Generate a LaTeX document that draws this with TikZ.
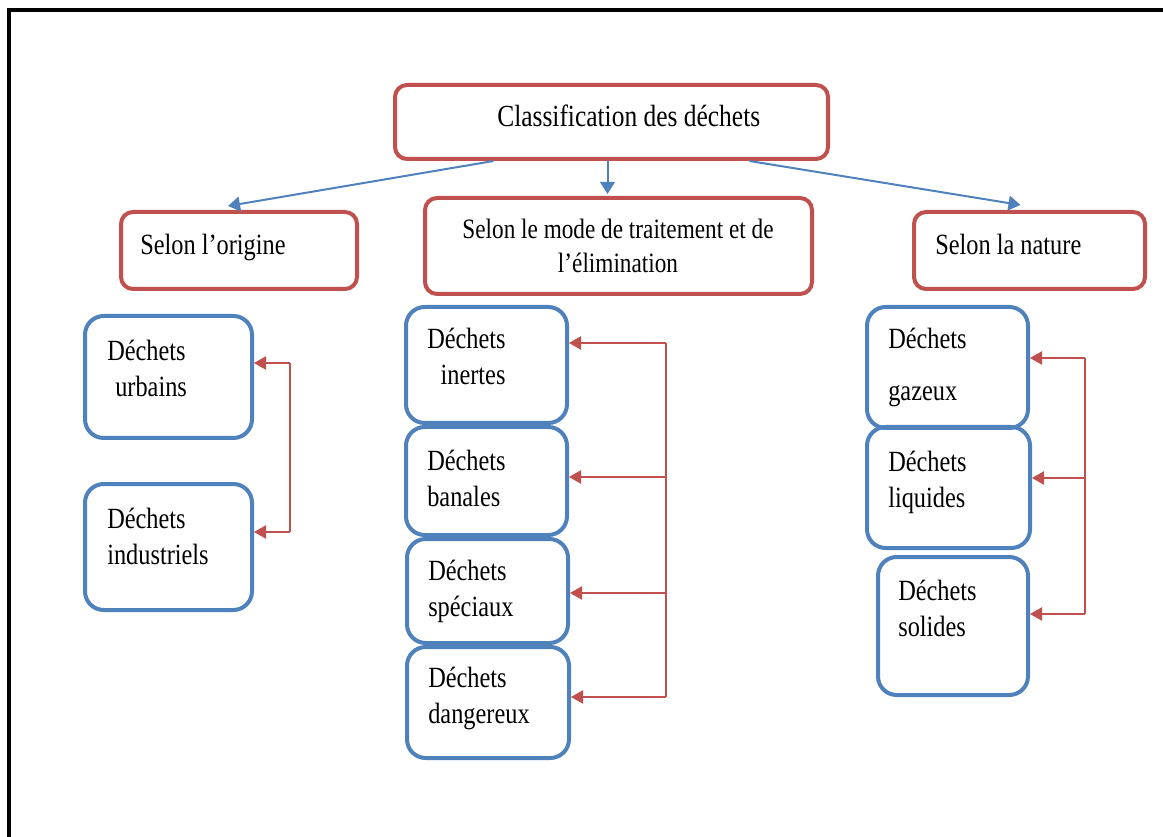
\documentclass[tikz,border=0pt]{standalone}
\usepackage{fontspec}
\setmainfont{Liberation Serif}[FakeStretch=0.83]
\usetikzlibrary{arrows.meta,calc}
\definecolor{rougeoff}{HTML}{C0504D}
\definecolor{bleuoff}{HTML}{4F81BD}

\begin{document}
\begin{tikzpicture}[x=0.75pt,y=-0.75pt]
        \tikzstyle{categorie}=[draw=rougeoff, line width=3pt, rounded corners=9pt, inner sep=0pt]
        \tikzstyle{dechet}=[draw=bleuoff, line width=3pt, rounded corners=14pt, inner sep=0pt]
        \tikzstyle{txt}=[inner sep=0pt, align=left, font=\fontsize{22}{27}\selectfont]
        \tikzstyle{fleche bleue}=[draw=bleuoff, line width=1.5pt, -{Triangle[length=9pt,width=11pt]}]
        \tikzstyle{fleche rouge}=[draw=rougeoff, line width=0.8pt, -{Triangle[length=9pt,width=10pt]}]
        \useasboundingbox (0,0) rectangle (1163,837);
        \draw[line width=3pt] (9,837) -- (9,10) -- (1163,10);
        % categories
        \node[categorie, minimum width=433*0.75pt, minimum height=74*0.75pt] (classif) at (611.5,122) {};
        \node[categorie, minimum width=236*0.75pt, minimum height=77*0.75pt] (origine) at (239,250.5) {};
        \node[categorie, minimum width=387*0.75pt, minimum height=96*0.75pt] (mode) at (618.5,246) {};
        \node[categorie, minimum width=231*0.75pt, minimum height=77*0.75pt] (nature) at (1029.5,250.5) {};
        \node[txt, anchor=base west, font=\fontsize{23}{27}\selectfont] (t-classif) at (497,127) {Classification des déchets};
        \node[txt, anchor=base west] (t-origine) at (140,255) {Selon l’origine};
        \node[txt, anchor=north, align=center, font=\fontsize{21}{25.5}\selectfont] (t-mode) at (618,219) {Selon le mode de traitement et de\\l’élimination};
        \node[txt, anchor=base west] (t-nature) at (935,255) {Selon la nature};
        % dechets
        \node[dechet, minimum width=167*0.75pt, minimum height=122*0.75pt] (urbains) at (168.5,377) {};
        \node[dechet, minimum width=167*0.75pt, minimum height=126*0.75pt] (industriels) at (168.5,547) {};
        \node[dechet, minimum width=161*0.75pt, minimum height=116*0.75pt] (inertes) at (486.5,365) {};
        \node[dechet, minimum width=161*0.75pt, minimum height=108*0.75pt] (banales) at (486.5,481) {};
        \node[dechet, minimum width=161*0.75pt, minimum height=104*0.75pt] (speciaux) at (487.5,591) {};
        \node[dechet, minimum width=162*0.75pt, minimum height=111*0.75pt] (dangereux) at (488,702.5) {};
        \node[dechet, minimum width=161*0.75pt, minimum height=121*0.75pt] (gazeux) at (947.5,367.5) {};
        \node[dechet, minimum width=163*0.75pt, minimum height=121*0.75pt] (liquides) at (948.5,487.5) {};
        \node[dechet, minimum width=150*0.75pt, minimum height=138*0.75pt] (solides) at (953,626) {};
        \node[txt, anchor=north west] (t-urbains) at (107,340) {Déchets\\\hspace*{6pt}urbains};
        \node[txt, anchor=north west] (t-industriels) at (107,508) {Déchets\\industriels};
        \node[txt, anchor=north west] (t-inertes) at (427,328) {Déchets\\\hspace*{10pt}inertes};
        \node[txt, anchor=north west] (t-banales) at (427,450) {Déchets\\banales};
        \node[txt, anchor=north west] (t-speciaux) at (428,560) {Déchets\\spéciaux};
        \node[txt, anchor=north west] (t-dangereux) at (428,667) {Déchets\\dangereux};
        \node[txt, anchor=north west] (t-gazeux) at (888,328) {Déchets\\[12pt]gazeux};
        \node[txt, anchor=north west] (t-liquides) at (888,451) {Déchets\\liquides};
        \node[txt, anchor=north west] (t-solides) at (898,580) {Déchets\\solides};
        % fleches bleues
        \draw[fleche bleue] ($(classif.south)+(-118,0)$) -- ($(origine.north)+(-11,-4)$);
        \draw[fleche bleue] ($(classif.south)+(-4,0)$) -- ($(mode.north)+(-11,-2)$);
        \draw[fleche bleue] ($(classif.south)+(138,0)$) -- ($(nature.north)+(-9,-5)$);
        % fleches rouges
        \coordinate (g1) at (290,363);
        \coordinate (g2) at (290,532);
        \draw[rougeoff, line width=0.8pt] (g1) -- (g2);
        \draw[fleche rouge] (g1) -- (g1 -| urbains.east);
        \draw[fleche rouge] (g2) -- (g2 -| industriels.east);
        \coordinate (m1) at (666,343);
        \coordinate (m2) at (666,477);
        \coordinate (m3) at (666,593);
        \coordinate (m4) at (666,697);
        \draw[rougeoff, line width=0.8pt] (m1) -- (m4);
        \draw[fleche rouge] (m1) -- (m1 -| inertes.east);
        \draw[fleche rouge] (m2) -- (m2 -| banales.east);
        \draw[fleche rouge] (m3) -- (m3 -| speciaux.east);
        \draw[fleche rouge] (m4) -- (m4 -| dangereux.east);
        \coordinate (d1) at (1085,358);
        \coordinate (d2) at (1085,478);
        \coordinate (d3) at (1085,614);
        \draw[rougeoff, line width=0.8pt] (d1) -- (d3);
        \draw[fleche rouge] (d1) -- (d1 -| gazeux.east);
        \draw[fleche rouge] (d2) -- (d2 -| liquides.east);
        \draw[fleche rouge] (d3) -- (d3 -| solides.east);
\end{tikzpicture}
\end{document}
